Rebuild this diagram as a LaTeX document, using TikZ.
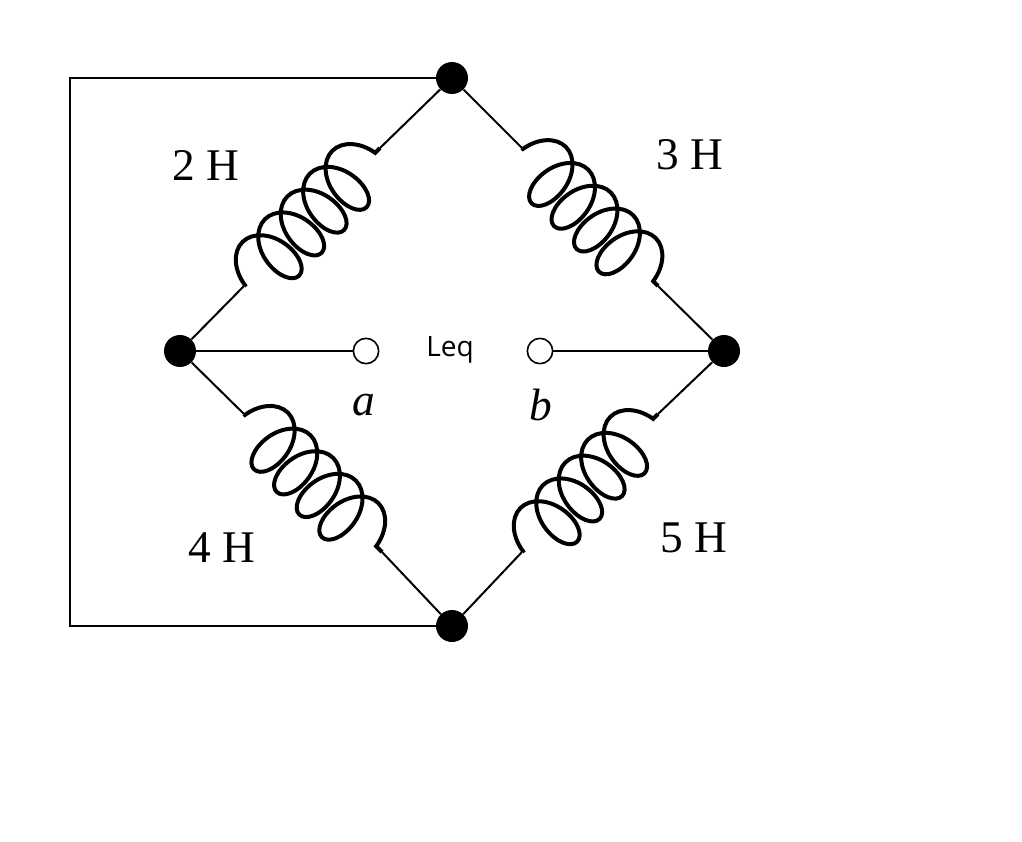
\documentclass[tikz,border=0pt]{standalone}
\usepackage{fontspec}
\setmainfont{Liberation Serif}
\setsansfont{Open Sans}
\usetikzlibrary{decorations.pathmorphing}
\begin{document}
\begin{tikzpicture}[x=0.75pt,y=-0.75pt,
  wire/.style={line width=1.5pt},
  ind/.style={line width=3pt,decorate,decoration={coil,aspect=0.65,segment length=24pt,amplitude=24pt,pre length=1pt,post length=1pt}},
  dot/.style={circle,fill=black,inner sep=0pt,minimum size=24},
  term/.style={circle,draw,line width=1.2pt,fill=white,inner sep=0pt,minimum size=19},
  lab/.style={font=\fontsize{34}{34}\selectfont}]
\useasboundingbox (0,0) rectangle (1022,842);
\node[dot] (T) at (452,78) {};
\node[dot] (L) at (180,351) {};
\node[dot] (R) at (724,351) {};
\node[dot] (B) at (452,626) {};
\node[term] (a) at (366,351) {};
\node[term] (b) at (540,351) {};
\node (leq) at (450,350) {\sffamily\fontsize{21}{21}\selectfont Leq};
\coordinate (c1) at (244,286); \coordinate (c2) at (380,148);
\coordinate (c3) at (522,148); \coordinate (c4) at (658,286);
\coordinate (c5) at (244,414); \coordinate (c6) at (382,552);
\coordinate (c7) at (522,552); \coordinate (c8) at (658,414);
\draw[wire] (L) -- (c1); \draw[wire] (c2) -- (T);
\draw[ind] (c1) -- (c2);
\draw[wire] (T) -- (c3); \draw[wire] (c4) -- (R);
\draw[ind] (c3) -- (c4);
\draw[wire] (L) -- (c5); \draw[wire] (c6) -- (B);
\draw[ind] (c5) -- (c6);
\draw[wire] (B) -- (c7); \draw[wire] (c8) -- (R);
\draw[ind] (c7) -- (c8);
\draw[wire] (L) -- (a); \draw[wire] (b) -- (R);
\draw[wire] (T) -- (70,78) -- (70,626) -- (B);
\node[lab] (l2) at (206,165) {2 H};
\node[lab] (l3) at (690,155) {3 H};
\node[lab] (l4) at (222,548) {4 H};
\node[lab] (l5) at (694,538) {5 H};
\node[lab] (la) at (364,405) {\itshape a};
\node[lab] (lb) at (541,405) {\itshape b};
\end{tikzpicture}
\end{document}
